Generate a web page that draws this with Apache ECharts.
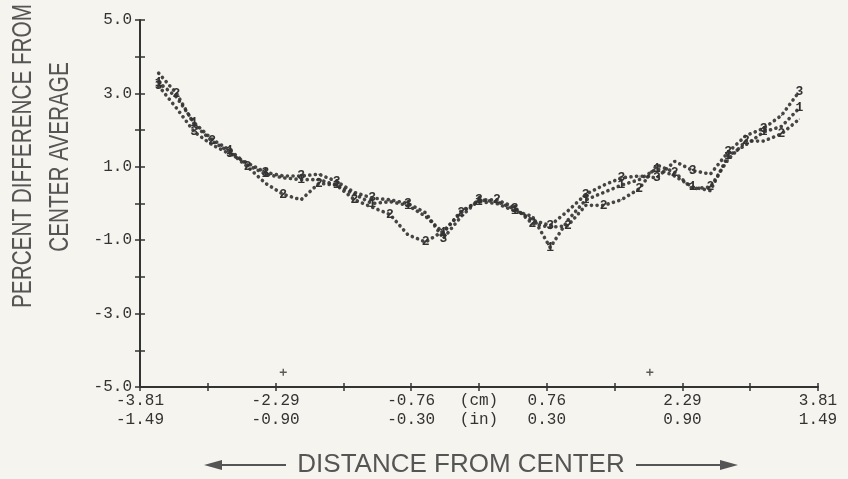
<!DOCTYPE html>
<html>
<head>
<meta charset="utf-8">
<script src="https://cdn.jsdelivr.net/npm/echarts@6/dist/echarts.min.js"></script>
<style>
  html, body { margin: 0; padding: 0; background: #f6f4ee; }
  #chart { width: 848px; height: 479px; }
</style>
</head>
<body>
<div id="chart"></div>
<script>
// Distance from center (cm) at which each run was sampled
const positionsCm = [-3.6, -3.4, -3.2, -3.0, -2.8, -2.6, -2.4, -2.2, -2.0, -1.8, -1.6, -1.4, -1.2,
  -1.0, -0.8, -0.6, -0.4, -0.2, 0.0, 0.2, 0.4, 0.6, 0.8, 1.0, 1.2, 1.4, 1.6, 1.8, 2.0, 2.2, 2.4,
  2.6, 2.8, 3.0, 3.2, 3.4, 3.6];

// Percent difference from center average, runs 1, 2 and 3
const run1 = [3.3, 2.9, 2.2, 1.75, 1.45, 1.05, 0.8, 0.7, 0.65, 0.65, 0.5, 0.25, 0.0,
  0.05, -0.05, -0.35, -0.8, -0.2, 0.05, 0.0, -0.2, -0.35, -1.2, -0.45, 0.1, 0.3, 0.5, 0.65, 0.95, 0.75, 0.45,
  0.35, 1.3, 1.6, 1.95, 2.1, 2.6];
const run2 = [3.55, 3.0, 2.15, 1.7, 1.4, 1.0, 0.55, 0.25, 0.1, 0.55, 0.5, 0.1, -0.1,
  -0.3, -0.85, -1.05, -0.75, -0.25, 0.1, 0.1, -0.1, -0.55, -0.65, -0.6, -0.05, -0.05, 0.1, 0.4, 1.05, 0.85, 0.4,
  0.45, 1.2, 1.7, 1.7, 1.9, 2.3];
const run3 = [3.2, 2.6, 1.95, 1.6, 1.35, 1.1, 0.85, 0.75, 0.75, 0.8, 0.6, 0.3, 0.15,
  0.1, 0.0, -0.25, -0.95, -0.35, 0.1, 0.05, -0.15, -0.45, -0.6, -0.2, 0.25, 0.5, 0.7, 0.75, 0.7, 1.15, 0.9,
  0.8, 1.4, 1.85, 2.05, 2.4, 3.05];

// Reference marks just above the baseline
const refMarksCm = [-2.2, 1.92];
const refMarkLevel = -4.6;

// Axis ticks and labels
const xTickCm = [-3.81, -3.048, -2.286, -1.524, -0.762, 0, 0.762, 1.524, 2.286, 3.048, 3.81];
const xLabelPos = [-3.81, -2.286, -0.762, 0, 0.762, 2.286, 3.81];
const xLabelCm = ['-3.81', '-2.29', '-0.76', '(cm)', '0.76', '2.29', '3.81'];
const xLabelIn = ['-1.49', '-0.90', '-0.30', '(in)', '0.30', '0.90', '1.49'];
const yLabelVals = [-5, -3, -1, 1, 3, 5];

const ink = '#333333';
const monoFont = '"Liberation Mono", "DejaVu Sans Mono", monospace';

function runSeries(name, values, offset) {
  return {
    name: name,
    type: 'line',
    xAxisIndex: 0,
    yAxisIndex: 0,
    symbol: 'circle',
    symbolSize: 1,
    showSymbol: true,
    itemStyle: { color: ink },
    lineStyle: { color: ink, width: 3.6, type: [0.1, 5.5], cap: 'round', opacity: 0.9 },
    label: {
      show: false, position: 'inside', formatter: name,
      fontFamily: monoFont, fontSize: 13, fontWeight: 'bold', color: ink
    },
    data: values.map((v, i) => ({
      value: [positionsCm[i], v],
      label: { show: (i + offset) % 2 === 0 }
    })),
    animation: false
  };
}

const chart = echarts.init(document.getElementById('chart'), null, { renderer: 'canvas' });

const axisCommonX = { type: 'value', min: -3.81, max: 3.81, gridIndex: 0, splitLine: { show: false } };
const axisCommonY = { type: 'value', min: -5, max: 5, interval: 1, gridIndex: 0, splitLine: { show: false } };

chart.setOption({
  backgroundColor: '#f6f4ee',
  grid: { left: 140, right: 30, top: 20, bottom: 92, containLabel: false },
  xAxis: [
    Object.assign({}, axisCommonX, {
      position: 'bottom',
      axisLine: { show: true, onZero: false, lineStyle: { color: ink, width: 2 } },
      axisTick: { show: true, inside: false, length: 4, customValues: xTickCm, lineStyle: { color: ink, width: 1.5 } },
      axisLabel: {
        show: true, customValues: xLabelPos, margin: 4, lineHeight: 19,
        fontFamily: monoFont, fontSize: 16, color: ink,
        formatter: function (v) {
          const i = xLabelPos.findIndex(p => Math.abs(p - v) < 1e-6);
          return i < 0 ? '' : xLabelCm[i] + '\n' + xLabelIn[i];
        }
      }
    }),
    Object.assign({}, axisCommonX, {
      position: 'bottom',
      axisLine: { show: false, onZero: false },
      axisTick: { show: true, inside: true, length: 4, customValues: xTickCm, lineStyle: { color: ink, width: 1.5 } },
      axisLabel: { show: false }
    })
  ],
  yAxis: [
    Object.assign({}, axisCommonY, {
      position: 'left',
      axisLine: { show: true, onZero: false, lineStyle: { color: ink, width: 2 } },
      axisTick: { show: true, inside: false, length: 5, lineStyle: { color: ink, width: 1.5 } },
      axisLabel: {
        show: true, customValues: yLabelVals, margin: 8, padding: [0, 0, 8, 0],
        fontFamily: monoFont, fontSize: 16, color: ink,
        formatter: function (v) { return v.toFixed(1); }
      }
    }),
    Object.assign({}, axisCommonY, {
      position: 'left',
      axisLine: { show: false, onZero: false },
      axisTick: { show: true, inside: true, length: 5, lineStyle: { color: ink, width: 1.5 } },
      axisLabel: { show: false }
    })
  ],
  series: [
    runSeries('1', run1, 0),
    runSeries('2', run2, 1),
    runSeries('3', run3, 0),
    {
      type: 'scatter',
      xAxisIndex: 0,
      yAxisIndex: 0,
      symbol: 'path://M4,0H6V4H10V6H6V10H4V6H0V4H4Z',
      symbolSize: 7,
      itemStyle: { color: ink },
      data: refMarksCm.map(x => [x, refMarkLevel]),
      animation: false
    }
  ],
  graphic: [
    {
      type: 'text', x: 23, y: 156, rotation: Math.PI / 2, scaleX: 0.74,
      style: {
        text: 'PERCENT DIFFERENCE FROM', fill: '#555', align: 'center', verticalAlign: 'middle',
        font: '28px "Liberation Sans", Arial, sans-serif'
      }
    },
    {
      type: 'text', x: 60, y: 157, rotation: Math.PI / 2, scaleX: 0.74,
      style: {
        text: 'CENTER AVERAGE', fill: '#555', align: 'center', verticalAlign: 'middle',
        font: '28px "Liberation Sans", Arial, sans-serif'
      }
    },
    {
      type: 'text', x: 461, y: 465,
      style: {
        text: 'DISTANCE FROM CENTER', fill: '#555', align: 'center', verticalAlign: 'middle',
        font: '26px "Liberation Sans", Arial, sans-serif'
      }
    },
    { type: 'line', shape: { x1: 214, y1: 465, x2: 286, y2: 465 }, style: { stroke: '#555', lineWidth: 2 } },
    { type: 'polygon', shape: { points: [[204, 465], [222, 460], [222, 470]] }, style: { fill: '#555' } },
    { type: 'line', shape: { x1: 636, y1: 465, x2: 724, y2: 465 }, style: { stroke: '#555', lineWidth: 2 } },
    { type: 'polygon', shape: { points: [[738, 465], [720, 460], [720, 470]] }, style: { fill: '#555' } }
  ]
});
</script>
</body>
</html>
